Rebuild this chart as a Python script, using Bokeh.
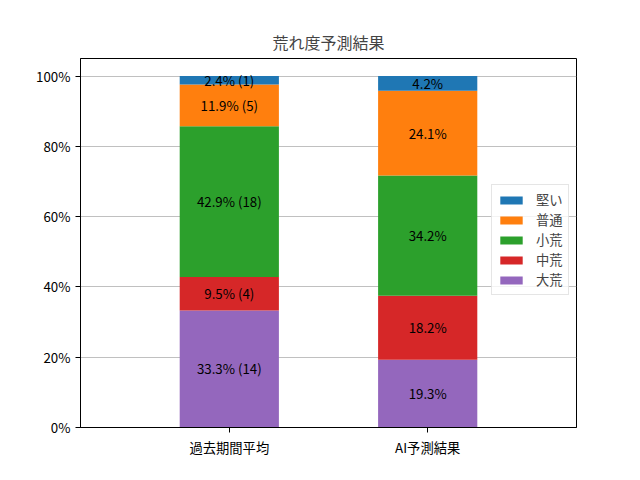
from bokeh.plotting import figure
from bokeh.models import ColumnDataSource, Legend, LegendItem, FixedTicker, PrintfTickFormatter, Range1d, LabelSet
from bokeh.core.properties import value
from bokeh.embed import file_html
from bokeh.resources import INLINE

# data
groups = ["過去期間平均", "AI予測結果"]
levels = ["大荒", "中荒", "小荒", "普通", "堅い"]  # bottom -> top
colors = ["#9467bd", "#d62728", "#2ca02c", "#ff7f0e", "#1f77b4"]
past_pct = [33.3, 9.5, 42.9, 11.9, 2.4]
past_cnt = [14, 4, 18, 5, 1]
ai_pct = [19.3, 18.2, 34.2, 24.1, 4.2]
yticks = [0, 20, 40, 60, 80, 100]

FONT = "Noto Sans CJK JP"
xs = [0, 1]

p = figure(width=624, height=464, output_backend="svg", toolbar_location=None,
           x_range=Range1d(-0.75, 1.75), y_range=Range1d(0, 105),
           min_border_left=80, min_border_right=48, min_border_top=58, min_border_bottom=37)

src = ColumnDataSource(dict(x=xs, **{lv: [past_pct[i], ai_pct[i]] for i, lv in enumerate(levels)}))
rends = p.vbar_stack(levels, x="x", width=0.5, color=colors, source=src, line_color=None)

# labels
lx, ly, lt = [], [], []
for gi, (pcts, cnts) in enumerate([(past_pct, past_cnt), (ai_pct, None)]):
    base = 0.0
    for i, v in enumerate(pcts):
        lx.append(xs[gi])
        ly.append(base + v / 2)
        lt.append(f"{v:.1f}% ({cnts[i]})" if cnts else f"{v:.1f}%")
        base += v
lsrc = ColumnDataSource(dict(x=lx, y=ly, t=lt))
p.add_layout(LabelSet(x="x", y="y", text="t", source=lsrc, text_align="center",
                      text_baseline="middle", text_font=value(FONT), text_font_size=value("13.3px"),
                      text_color="black"))

legend = Legend(items=[LegendItem(label=levels[i], renderers=[rends[i]]) for i in reversed(range(5))],
                location=(411, 132), glyph_width=28, glyph_height=10, label_height=14,
                spacing=1, padding=5, margin=0, label_text_font=FONT, label_text_font_size="13.3px",
                border_line_color="#cccccc", background_fill_alpha=0.8, label_standoff=11)
p.add_layout(legend, "center")

p.title.text = "荒れ度予測結果"
p.title.align = "center"
p.title.text_font = FONT
p.title.text_font_size = "16px"
p.title.text_font_style = "normal"

p.xaxis.ticker = FixedTicker(ticks=xs)
p.xaxis.major_label_overrides = {0: groups[0], 1: groups[1]}
p.yaxis.ticker = FixedTicker(ticks=yticks)
p.yaxis.formatter = PrintfTickFormatter(format="%d%%")
for ax in (p.xaxis, p.yaxis):
    ax.major_label_text_font = FONT
    ax.major_label_text_font_size = "13.3px"
    ax.major_label_text_color = "black"
    ax.axis_line_color = "black"
    ax.major_tick_line_color = "black"
    ax.minor_tick_line_color = None
    ax.major_tick_out = 5
    ax.major_tick_in = 0
    ax.major_label_standoff = 5
p.xgrid.grid_line_color = None
p.ygrid.grid_line_color = "#b0b0b0"
p.ygrid.grid_line_width = 0.8
p.outline_line_color = "black"
p.outline_line_alpha = 1.0

open("out.html", "w").write(file_html(p, INLINE))
